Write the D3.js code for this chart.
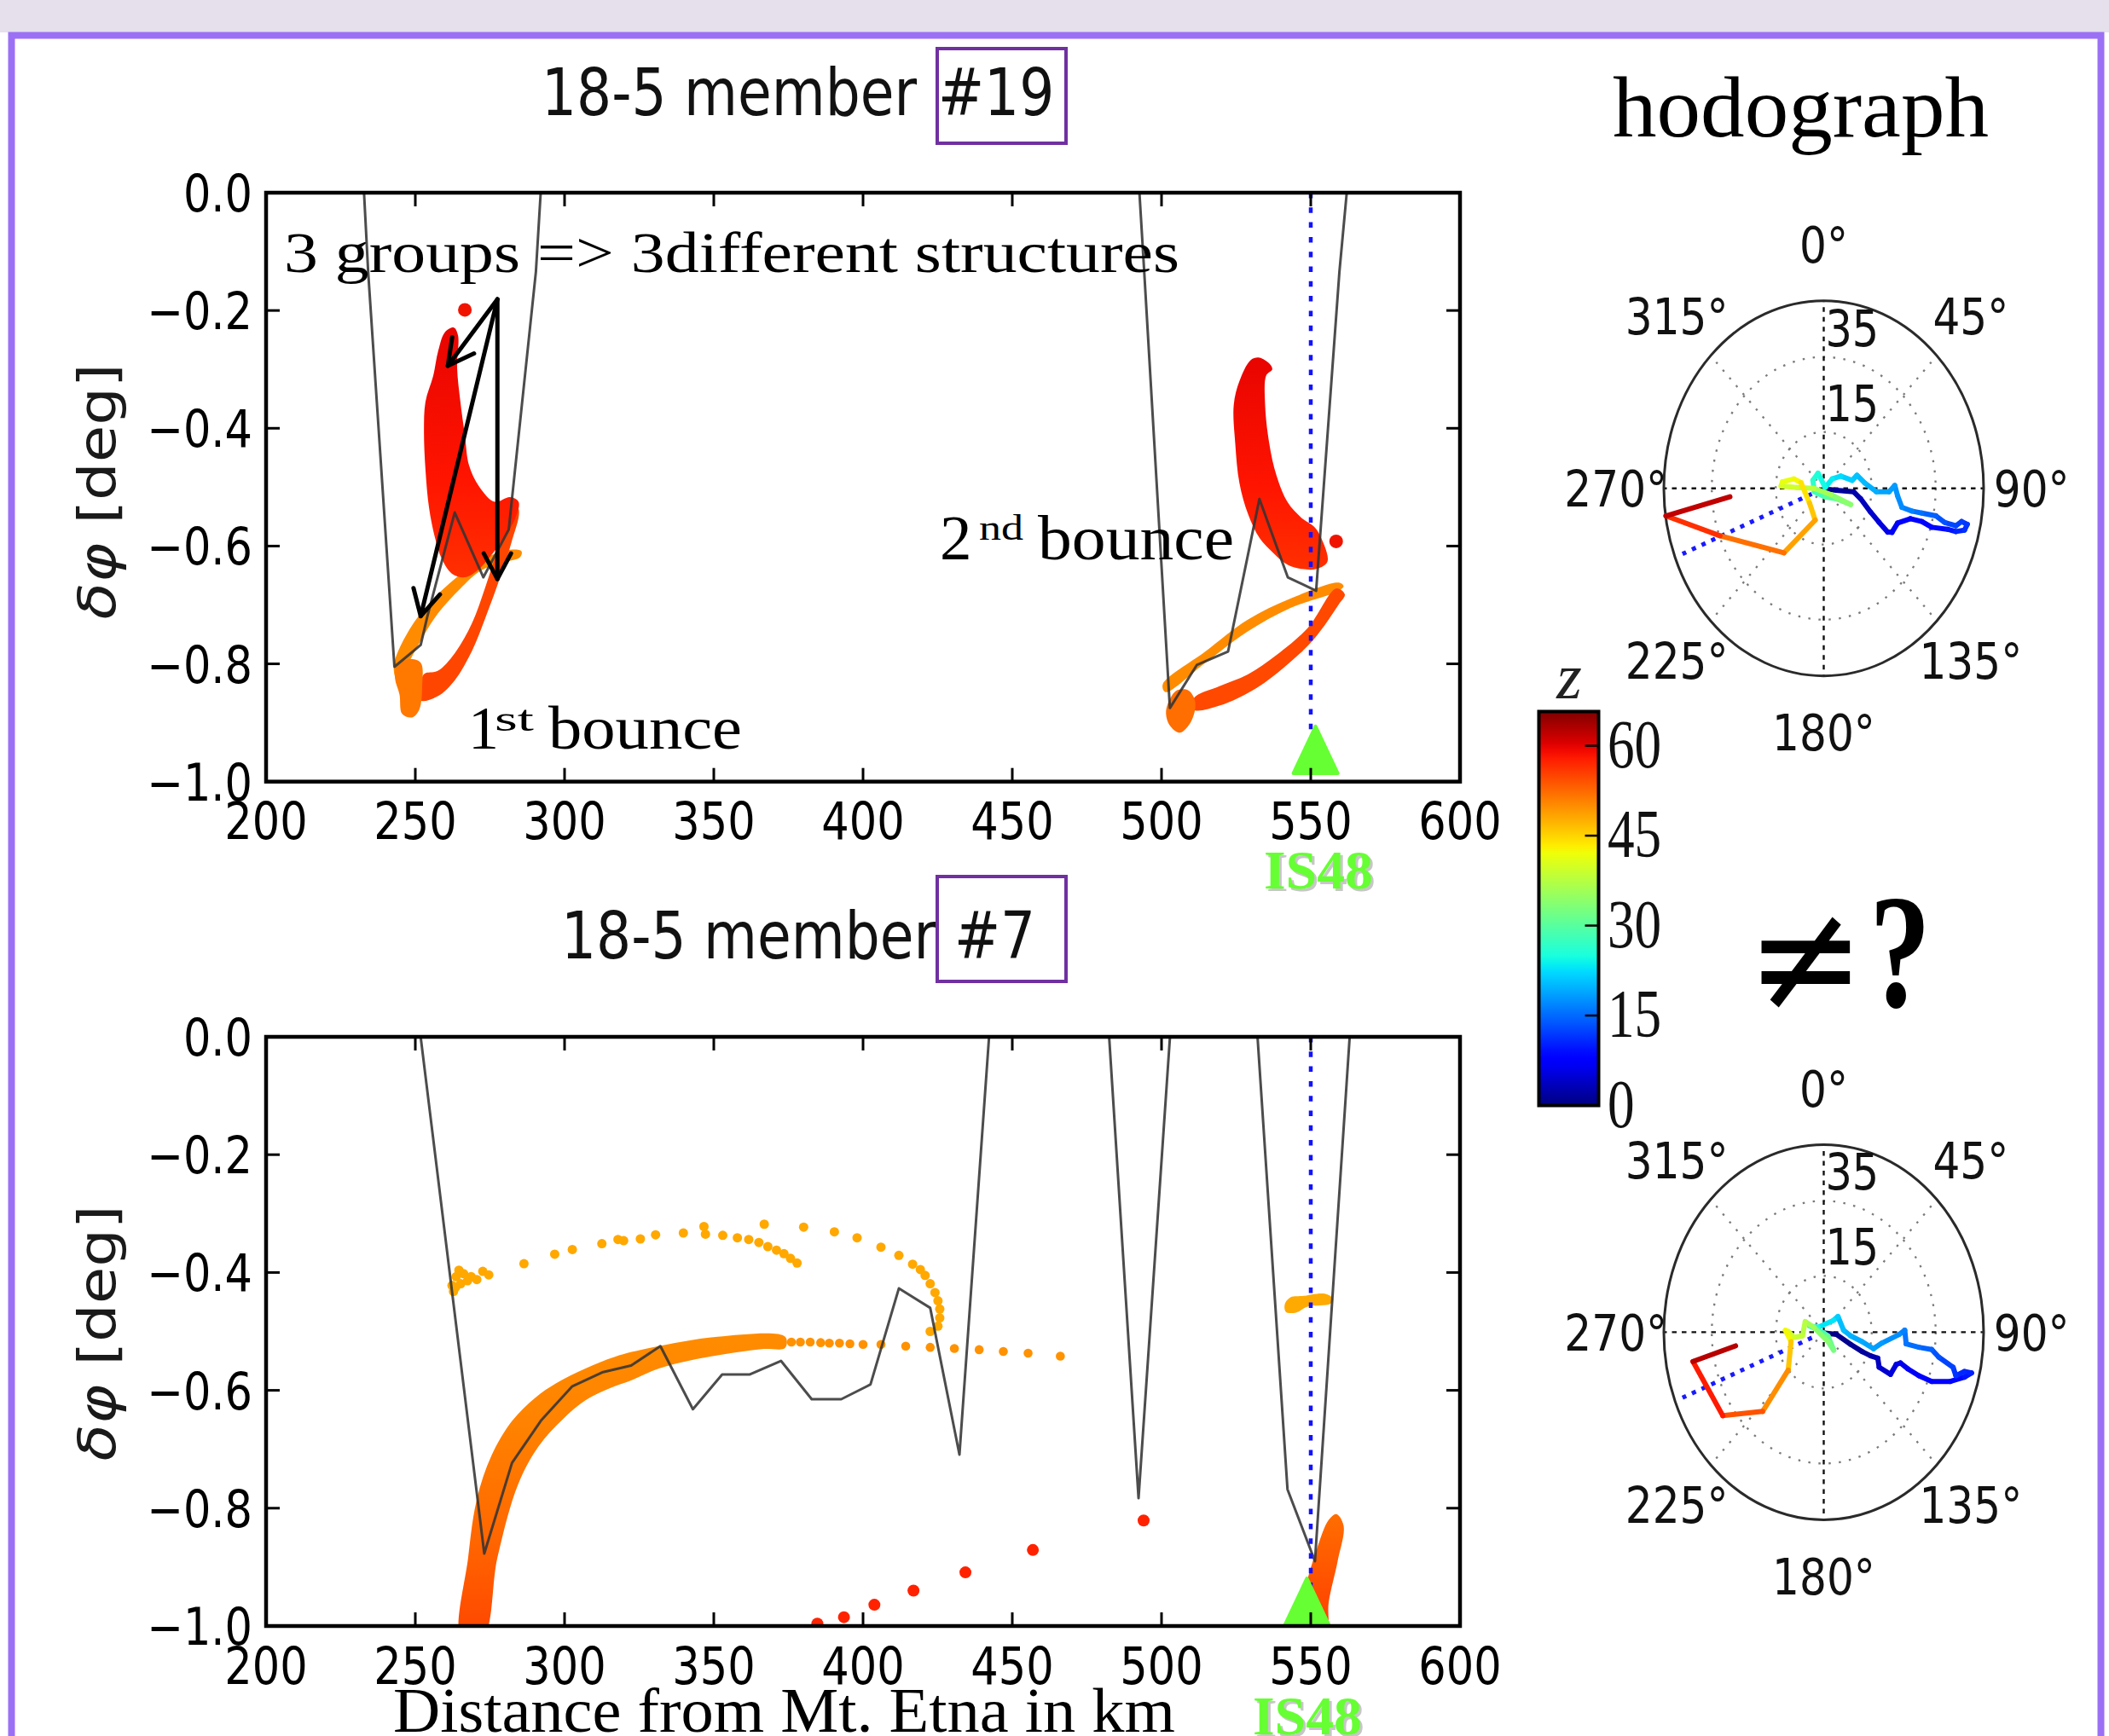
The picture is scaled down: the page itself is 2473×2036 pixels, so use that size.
<!DOCTYPE html>
<html><head><meta charset="utf-8">
<script src="https://cdn.jsdelivr.net/npm/d3@7"></script>
<style>html,body{margin:0;padding:0;background:#fff;}svg{display:block;}</style>
</head><body>
<svg id="chart" width="2473" height="2036"></svg>
<script>
// ======================= DATA =======================
const xTicks = [200,250,300,350,400,450,500,550,600];
const yTicks = [0,-0.2,-0.4,-0.6,-0.8,-1.0];
const yTickLabels = ["0.0","\u22120.2","\u22120.4","\u22120.6","\u22120.8","\u22121.0"];
const stationDist = 550;            // IS48 distance (km)
const markerTop = [551.6,-0.946];
const markerBot = [548.7,-0.959];

// member #19 : reference (gray) curve segments [km, deg]
const grayTop = [
 [[232.3,0.05],[234.2,-0.134],[243,-0.805],[251.8,-0.768],[254,-0.72],[263.2,-0.543],[272.8,-0.653],[281.3,-0.572],[290.4,-0.134],[292.6,0.05]],
 [[492.0,0.05],[494.2,-0.134],[502.8,-0.875],[511.8,-0.802],[522.3,-0.779],[532.8,-0.520],[542.3,-0.653],[551.8,-0.676],[559.6,-0.134],[562.6,0.03]]
];
// member #19 : arrival clouds (outlines)
const t19RedA = [[259.9,-0.237],[262.9,-0.229],[264.3,-0.242],[264.0,-0.297],[265.1,-0.355],[266.6,-0.412],[268.0,-0.463],[271.4,-0.499],[276.6,-0.525],[281.7,-0.517],[284.6,-0.525],[283.4,-0.554],[280.0,-0.583],[276.0,-0.612],[270.9,-0.641],[266.6,-0.653],[262.3,-0.647],[258.9,-0.622],[256.6,-0.586],[254.6,-0.535],[253.4,-0.470],[252.9,-0.405],[253.4,-0.355],[256.0,-0.311],[257.7,-0.268]];
const t19OrangeA = [[242.8,-0.802],[248.0,-0.742],[255.6,-0.692],[263.2,-0.656],[270.9,-0.626],[277.5,-0.612],[283.2,-0.606],[285.6,-0.609],[285.1,-0.619],[278.5,-0.629],[271.8,-0.642],[265.1,-0.672],[257.5,-0.715],[251.3,-0.765],[246.1,-0.812],[243.7,-0.825]];
const t19OrRedA = [[251.8,-0.862],[257.5,-0.855],[263.2,-0.828],[268.9,-0.779],[273.7,-0.719],[278.5,-0.652],[282.3,-0.592],[284.7,-0.539],[282.3,-0.519],[280.4,-0.559],[277.5,-0.606],[273.7,-0.666],[268.9,-0.732],[263.2,-0.782],[257.5,-0.812],[252.8,-0.818]];
const t19BlobA = [[243.7,-0.805],[248.0,-0.792],[251.8,-0.798],[252.3,-0.838],[251.3,-0.878],[248.9,-0.891],[245.6,-0.885],[244.7,-0.852],[243.2,-0.825]];
const t19RedB = [[529.9,-0.284],[532.8,-0.280],[536.1,-0.290],[537.1,-0.300],[535.1,-0.310],[534.7,-0.360],[536.1,-0.426],[538.5,-0.480],[542.3,-0.526],[547.1,-0.553],[550.9,-0.566],[552.8,-0.579],[555.6,-0.626],[551.8,-0.639],[547.1,-0.639],[542.3,-0.632],[537.5,-0.612],[532.8,-0.586],[529.0,-0.546],[526.1,-0.493],[524.7,-0.426],[524.2,-0.360],[526.1,-0.320]];
const t19OrangeB = [[500.4,-0.835],[514.7,-0.779],[528.9,-0.725],[543.2,-0.689],[559.4,-0.662],[561.0,-0.668],[559.4,-0.676],[543.2,-0.705],[528.9,-0.745],[514.7,-0.798],[501.3,-0.848]];
const t19OrRedB = [[510.9,-0.858],[519.4,-0.838],[528.9,-0.818],[538.5,-0.785],[549.0,-0.739],[558.5,-0.672],[561.4,-0.682],[559.4,-0.699],[550.9,-0.759],[541.3,-0.805],[531.8,-0.841],[519.4,-0.871],[510.9,-0.878]];
const t19BlobB = [[502.3,-0.865],[505.1,-0.845],[509.0,-0.845],[511.3,-0.865],[509.9,-0.898],[506.1,-0.917],[502.8,-0.905],[501.5,-0.885]];
const t19RedDots = [[266.6,-0.199],[558.5,-0.592]];

// member #7
const grayBot = [
 [[251.3,0.02],[273.1,-0.877],[282.4,-0.723],[292.3,-0.650],[302.6,-0.593],[312.9,-0.569],[322.3,-0.558],[332.1,-0.525],[343,-0.632],[352.8,-0.573],[362.1,-0.573],[372.5,-0.550],[382.8,-0.615],[392.7,-0.615],[402.5,-0.590],[412,-0.427],[422.5,-0.460],[432.3,-0.709],[442.5,0.02]],
 [[482.2,0.02],[492.3,-0.783],[503.1,0.02]],
 [[531.9,0.02],[542.2,-0.768],[551.4,-0.890],[563.3,0.02]]
];
const m7Band = [[265.4,-1.02],[267.7,-0.884],[270.6,-0.785],[275.5,-0.711],[282.4,-0.652],[290.3,-0.612],[297.2,-0.588],[307.0,-0.563],[316.9,-0.543],[328.7,-0.528],[351.3,-0.509],[373.9,-0.509],[373.9,-0.528],[366.1,-0.530],[346.4,-0.545],[331.6,-0.563],[322.8,-0.582],[314.9,-0.597],[307.0,-0.617],[299.2,-0.650],[291.3,-0.695],[284.4,-0.760],[277.5,-0.884],[272.6,-1.02]];
const m7BandR = [[545.5,-1.02],[548.5,-0.930],[552.0,-0.870],[556.0,-0.820],[558.6,-0.810],[561.0,-0.830],[559.0,-0.890],[556.0,-0.960],[555.0,-1.02]];
const m7Cluster = [[541.3,-0.454],[543.2,-0.442],[547.1,-0.440],[554.7,-0.436],[557.5,-0.445],[556.6,-0.453],[548.9,-0.458],[545.1,-0.468],[541.7,-0.467]];
const m7UpperDots = [[262.3,-0.422],[263.7,-0.407],[266.2,-0.402],[268.7,-0.407],[270.6,-0.412],[272.6,-0.398],[274.6,-0.404],[262.8,-0.432],[265.2,-0.419],[263.5,-0.425],[267.5,-0.414],[264.6,-0.396],
 [286.4,-0.385],[296.7,-0.369],[302.6,-0.361],[312.5,-0.351],[317.9,-0.344],[319.8,-0.346],[325.4,-0.343],[330.5,-0.336],[339.8,-0.333],[346.7,-0.322],[347.2,-0.335],[353.0,-0.337],[357.9,-0.341],[361.7,-0.344],[365.1,-0.349],[368.1,-0.356],[371.0,-0.362],[373.5,-0.368],[375.7,-0.376],[377.9,-0.384],
 [366.9,-0.318],[380.1,-0.323],[390.4,-0.331],[398.0,-0.341],[406.0,-0.357],[412.0,-0.371],[416.6,-0.386],[419.2,-0.395],[420.8,-0.405],[422.5,-0.419],[424.1,-0.434],[425.1,-0.448],[425.7,-0.462],[425.7,-0.477],[425.1,-0.491],[422.5,-0.500]];
const m7FlatDots = [[376.0,-0.518],[379.0,-0.518],[382.3,-0.518],[385.8,-0.519],[388.7,-0.520],[392.1,-0.520],[395.6,-0.521],[400.0,-0.522],[406.0,-0.522],[414.3,-0.525],[422.5,-0.527],[430.6,-0.529],[438.9,-0.531],[447.0,-0.534],[455.3,-0.537],[466.1,-0.542]];
const m7RedDots = [[384.7,-0.996],[393.6,-0.985],[403.8,-0.964],[416.9,-0.940],[434.3,-0.909],[456.9,-0.871],[494.0,-0.821]];

// annotation arrows (member #19)
const arrowOrigin = [277.5,-0.181];
const arrowTargets = [[260.9,-0.294],[251.8,-0.719],[277.5,-0.656]];

// hodographs: [z (km), east comp, north comp] (m/s)
const hodoTop = [[0,0.27,-0.15],[1,4.0,-0.53],[2,9.33,-0.91],[3,11.56,-2.80],[4,14.67,-6.36],[5,17.33,-9.09],[6,20.0,-11.67],[6.5,21.33,-11.74],[7,23.11,-9.24],[7.5,27.11,-8.11],[8,30.67,-8.86],[8.5,33.78,-10.38],[9,38.67,-10.91],[10,41.33,-11.52],[11,44.0,-11.14],[11.5,44.89,-9.62],[12,43.11,-8.86],[12.5,41.33,-10.0],[13,37.78,-9.09],[14,35.11,-7.35],[15,30.67,-6.59],[16,27.56,-6.06],[17,24.44,-5.08],[17.5,23.11,-2.05],[18,22.22,0.76],[18.5,20.44,-0.91],[19,16.44,-0.91],[20,12.89,1.36],[20.5,10.40,3.48],[21,8.89,2.12],[22,5.33,3.26],[23,2.67,2.50],[24,0.44,0.23],[25,-1.78,4.02],[26,-3.38,2.12],[27,-2.93,-0.91],[29,0.44,-2.27],[31,4.0,-2.80],[33,8.44,-4.32],[35,2.22,-1.67],[37,-3.11,0],[39,-8.44,0.23],[40,-13.33,0.61],[41,-12.89,1.74],[42,-9.33,2.50],[43,-7.11,1.52],[45,-4.44,-3.94],[47,-2.67,-8.48],[50,-12.44,-17.20],[54,-32.44,-12.65],[59,-49.33,-7.35],[65,-29.33,-2.27]];
const hodoBot = [[0,0.44,-0.23],[0.5,4.0,-0.61],[1,8.44,-3.27],[1.5,12.0,-5.17],[2,14.67,-6.30],[3,16.89,-6.91],[4,17.33,-9.34],[5,20.89,-11.24],[5.5,22.67,-8.58],[6,24.0,-8.20],[6.5,26.22,-9.72],[7,29.78,-11.62],[7.5,33.78,-13.14],[8,39.56,-13.14],[9,44.0,-12.0],[10,46.22,-10.86],[10.5,44.0,-10.48],[11,41.33,-11.62],[12,40.44,-9.34],[13,36.0,-6.68],[14,33.78,-4.63],[15,29.78,-4.03],[15.5,25.78,-3.11],[16,25.33,0.53],[17,23.56,-0.61],[18,18.22,-2.89],[18.5,15.56,-4.41],[19,12.0,-2.51],[19.5,8.44,-0.99],[20,6.22,0.53],[21,4.44,4.18],[22,3.11,3.19],[24,-1.78,1.29],[26,-4.44,1.67],[28,0,-0.23],[30,1.33,-0.99],[32,3.11,-4.79],[33,1.33,-2.51],[35,-3.11,1.29],[37,-5.78,2.81],[38,-6.67,-0.99],[39,-9.33,-1.37],[40,-11.11,0.15],[41,-12.0,0.53],[44,-10.22,-2.51],[48,-11.11,-10.10],[52,-19.11,-21.12],[56,-31.56,-22.26],[60,-40.89,-7.82],[65,-27.56,-3.65]];
const stationAzimuth = 248.4;
const stationRay = [4, 47.5];
const rTicks = [15,35];
const rMax = 50;
const thetaTicks = [0,45,90,135,180,225,270,315];
const cbTicks = [0,15,30,45,60];
const zMax = 65.7;

// ======================= DRAWING =======================
const W = 2473, H = 2036;
const svg = d3.select('#chart');
const defs = svg.append('defs');

function label(parent, x, y, str, o = {}) {
  const t = parent.append('text')
    .attr('transform', `translate(${x},${y})` + (o.rotate ? ` rotate(${o.rotate})` : '') + ` scale(${o.sx || 1},${o.sy || 1})`)
    .attr('font-family', o.family || 'DejaVu Sans')
    .attr('font-size', o.size || 60)
    .attr('font-weight', o.weight || 'normal')
    .attr('font-style', o.style || 'normal')
    .attr('text-anchor', o.anchor || 'start')
    .attr('fill', o.fill || '#000')
    .text(str);
  if (o.len) t.attr('textLength', o.len).attr('lengthAdjust', 'spacingAndGlyphs');
  return t;
}
function vGrad(id, stops) {
  const g = defs.append('linearGradient').attr('id', id).attr('x1', 0).attr('y1', 0).attr('x2', 0).attr('y2', 1);
  stops.forEach(s => g.append('stop').attr('offset', s[0]).attr('stop-color', s[1]));
}
vGrad('gRed', [[0, '#e80400'], [0.6, '#ff1400'], [1, '#ff3000']]);
vGrad('gBand', [[0, '#ff8c00'], [0.3, '#ff8200'], [0.65, '#ff6800'], [1, '#ff4400']]);
vGrad('gBandR', [[0, '#ff6e00'], [1, '#ff3800']]);

// jet colormap
const jR = d3.scaleLinear().domain([0, 0.35, 0.66, 0.89, 1]).range([0, 0, 1, 1, 0.5]).clamp(true);
const jG = d3.scaleLinear().domain([0, 0.125, 0.375, 0.64, 0.91, 1]).range([0, 0, 1, 1, 0, 0]).clamp(true);
const jB = d3.scaleLinear().domain([0, 0.11, 0.34, 0.65, 1]).range([0.5, 1, 1, 0, 0]).clamp(true);
const jet = t => d3.rgb(255 * jR(t), 255 * jG(t), 255 * jB(t)).formatHex();

// page background
svg.append('rect').attr('width', W).attr('height', H).attr('fill', '#ffffff');
svg.append('rect').attr('width', W).attr('height', 38).attr('fill', '#e5e0ec');
svg.append('rect').attr('x', 13.5).attr('y', 41.5).attr('width', 2450).attr('height', 2100)
  .attr('fill', '#ffffff').attr('stroke', '#9b70f5').attr('stroke-width', 8);

const X0 = 312, X1 = 1712;
const x = d3.scaleLinear().domain([200, 600]).range([X0, X1]);

function panel(cfg) {
  const y = d3.scaleLinear().domain([0, -1]).range([cfg.y0, cfg.y1]);
  const g = svg.append('g');
  const cid = 'clip' + cfg.id;
  defs.append('clipPath').attr('id', cid).append('rect')
    .attr('x', X0).attr('y', cfg.y0).attr('width', X1 - X0).attr('height', cfg.y1 - cfg.y0);
  const inner = g.append('g').attr('clip-path', `url(#${cid})`);
  const outline = d3.line().x(d => x(d[0])).y(d => y(d[1])).curve(d3.curveCatmullRomClosed.alpha(0.5));
  cfg.bands.forEach(b => inner.append('path').attr('d', outline(b.pts)).attr('fill', b.fill));
  cfg.dots.forEach(s => inner.append('g').selectAll('circle').data(s.pts).join('circle')
    .attr('cx', d => x(d[0])).attr('cy', d => y(d[1])).attr('r', s.r).attr('fill', s.fill));
  const ln = d3.line().x(d => x(d[0])).y(d => y(d[1]));
  cfg.gray.forEach(seg => inner.append('path').attr('d', ln(seg)).attr('fill', 'none')
    .attr('stroke', '#333').attr('stroke-opacity', 0.88).attr('stroke-width', 3).attr('stroke-linejoin', 'round'));
  inner.append('line').attr('x1', x(stationDist)).attr('x2', x(stationDist)).attr('y1', y(0)).attr('y2', y(-1))
    .attr('stroke', '#1212ff').attr('stroke-width', 4.5).attr('stroke-dasharray', '6.5 10.8');
  const mx = x(cfg.marker[0]), my = y(cfg.marker[1]);
  inner.append('path').attr('d', `M${mx},${my - 27.5}L${mx + 26},${my + 27.5}L${mx - 26},${my + 27.5}Z`)
    .attr('fill', '#66ff33').attr('stroke', '#66ff33').attr('stroke-width', 4).attr('stroke-linejoin', 'round');
  if (cfg.annot) cfg.annot(g, y);
  // frame + ticks
  g.append('rect').attr('x', X0).attr('y', cfg.y0).attr('width', X1 - X0).attr('height', cfg.y1 - cfg.y0)
    .attr('fill', 'none').attr('stroke', '#000').attr('stroke-width', 4.5);
  xTicks.forEach(t => {
    g.append('line').attr('x1', x(t)).attr('x2', x(t)).attr('y1', cfg.y1).attr('y2', cfg.y1 - 16).attr('stroke', '#000').attr('stroke-width', 3);
    g.append('line').attr('x1', x(t)).attr('x2', x(t)).attr('y1', cfg.y0).attr('y2', cfg.y0 + 16).attr('stroke', '#000').attr('stroke-width', 3);
    label(g, x(t), cfg.y1 + 67.5, String(t), { size: 60, sx: 0.85, anchor: 'middle' });
  });
  yTicks.forEach((t, i) => {
    g.append('line').attr('x1', X0).attr('x2', X0 + 16).attr('y1', y(t)).attr('y2', y(t)).attr('stroke', '#000').attr('stroke-width', 3);
    g.append('line').attr('x1', X1).attr('x2', X1 - 16).attr('y1', y(t)).attr('y2', y(t)).attr('stroke', '#000').attr('stroke-width', 3);
    label(g, 296, y(t) + 22, yTickLabels[i], { size: 60, sx: 0.85, anchor: 'end' });
  });
  // y-axis label
  const yl = g.append('text')
    .attr('transform', `translate(135,${cfg.ylabY}) rotate(-90) scale(1,0.85)`)
    .attr('font-family', 'DejaVu Sans').attr('font-size', 72).attr('text-anchor', 'middle')
    .attr('fill', '#1a1a1a').attr('textLength', 300).attr('lengthAdjust', 'spacingAndGlyphs');
  yl.append('tspan').attr('font-style', 'italic').text('\u03b4\u03c6');
  yl.append('tspan').text(' [deg]');
  // title
  label(svg, cfg.titleX, cfg.titleY, '18-5 member', { size: 76, sx: 0.85, fill: '#111' });
  label(svg, cfg.hashX, cfg.titleY, cfg.hash, { size: 76, sx: 0.85, fill: '#111' });
  svg.append('rect').attr('x', 1099).attr('y', cfg.boxY0).attr('width', 151).attr('height', cfg.boxY1 - cfg.boxY0)
    .attr('fill', 'none').attr('stroke', '#7030a0').attr('stroke-width', 4);
  // IS48 label
  label(svg, cfg.isX + 3, cfg.isY + 3, 'IS48', { family: 'Liberation Serif', size: 64, weight: 'bold', fill: '#9a9a9a', len: 128 }).attr('opacity', 0.55);
  label(svg, cfg.isX, cfg.isY, 'IS48', { family: 'Liberation Serif', size: 64, weight: 'bold', fill: '#66ff33', len: 128 });
}

panel({
  id: 'T', y0: 226, y1: 916.7, marker: markerTop, gray: grayTop, ylabY: 576.5,
  titleX: 635, titleY: 135, hashX: 1100, hash: '#19', boxY0: 57, boxY1: 168, isX: 1482, isY: 1041.5,
  bands: [
    { pts: t19OrangeA, fill: '#ff8c00' },
    { pts: t19OrRedA, fill: '#ff4600' },
    { pts: t19BlobA, fill: '#ff7800' },
    { pts: t19RedA, fill: 'url(#gRed)' },
    { pts: t19OrangeB, fill: '#ff8c00' },
    { pts: t19OrRedB, fill: '#ff4800' },
    { pts: t19BlobB, fill: '#ff6e00' },
    { pts: t19RedB, fill: 'url(#gRed)' }
  ],
  dots: [{ pts: t19RedDots, r: 8, fill: '#f01400' }],
  annot: (g, y) => {
    label(g, 333, 319, '3 groups => 3different structures', { family: 'Liberation Serif', size: 68, len: 1050 });
    label(g, 549, 877.5, '1', { family: 'Liberation Serif', size: 72 });
    label(g, 580, 857, 'st', { family: 'Liberation Serif', size: 42, len: 46 });
    label(g, 643, 877.5, 'bounce', { family: 'Liberation Serif', size: 72, len: 227 });
    label(g, 1102, 656, '2', { family: 'Liberation Serif', size: 75 });
    label(g, 1148, 633, 'nd', { family: 'Liberation Serif', size: 42, len: 52 });
    label(g, 1217, 656, 'bounce', { family: 'Liberation Serif', size: 75, len: 230 });
    const x0 = x(arrowOrigin[0]), y0 = y(arrowOrigin[1]);
    arrowTargets.forEach(t => {
      const x1 = x(t[0]), y1 = y(t[1]);
      const ang = Math.atan2(y1 - y0, x1 - x0), L = 34, a = 28 * Math.PI / 180;
      g.append('line').attr('x1', x0).attr('y1', y0).attr('x2', x1).attr('y2', y1)
        .attr('stroke', '#000').attr('stroke-width', 5).attr('stroke-linecap', 'round');
      const p1 = [x1 - L * Math.cos(ang - a), y1 - L * Math.sin(ang - a)];
      const p2 = [x1 - L * Math.cos(ang + a), y1 - L * Math.sin(ang + a)];
      g.append('path').attr('d', `M${p1}L${x1},${y1}L${p2}`).attr('fill', 'none')
        .attr('stroke', '#000').attr('stroke-width', 5).attr('stroke-linecap', 'round').attr('stroke-linejoin', 'round');
    });
  }
});

panel({
  id: 'B', y0: 1216, y1: 1907, marker: markerBot, gray: grayBot, ylabY: 1563.5,
  titleX: 658, titleY: 1124, hashX: 1119, hash: '#7', boxY0: 1028, boxY1: 1151, isX: 1469, isY: 2034,
  bands: [
    { pts: m7Band, fill: 'url(#gBand)' },
    { pts: m7BandR, fill: 'url(#gBandR)' },
    { pts: m7Cluster, fill: '#ffaa00' }
  ],
  dots: [
    { pts: m7UpperDots, r: 5.5, fill: '#ffa800' },
    { pts: m7FlatDots, r: 5.3, fill: '#ff9200' },
    { pts: m7RedDots, r: 7, fill: '#ff2200' }
  ]
});

// x-axis label of lower panel
label(svg, 461, 2031, 'Distance from Mt. Etna in km', { family: 'Liberation Serif', size: 74, len: 917 });

// ---------------- hodographs ----------------
const rxS = d3.scaleLinear().domain([0, rMax]).range([0, 187.5]);
const ryS = d3.scaleLinear().domain([0, rMax]).range([0, 220]);
function hodo(cy, trace) {
  const cx = 2138.5;
  const g = svg.append('g');
  const px = u => cx + rxS(u), py = v => cy - ryS(v);
  rTicks.forEach(r => g.append('ellipse').attr('cx', cx).attr('cy', cy).attr('rx', rxS(r)).attr('ry', ryS(r))
    .attr('fill', 'none').attr('stroke', '#7a7a7a').attr('stroke-width', 2.3).attr('stroke-dasharray', '2.5 9.5'));
  thetaTicks.forEach(th => {
    const a = th * Math.PI / 180, al = th % 90 === 0;
    g.append('line').attr('x1', cx).attr('y1', cy).attr('x2', px(rMax * Math.sin(a))).attr('y2', py(rMax * Math.cos(a)))
      .attr('stroke', al ? '#111' : '#7a7a7a').attr('stroke-width', al ? 2.4 : 2.3).attr('stroke-dasharray', al ? '5.5 6' : '2.5 9.5');
  });
  g.append('ellipse').attr('cx', cx).attr('cy', cy).attr('rx', rxS(rMax)).attr('ry', ryS(rMax))
    .attr('fill', 'none').attr('stroke', '#2a2a2a').attr('stroke-width', 3);
  // station direction
  const sa = stationAzimuth * Math.PI / 180;
  g.append('line').attr('x1', px(stationRay[0] * Math.sin(sa))).attr('y1', py(stationRay[0] * Math.cos(sa)))
    .attr('x2', px(stationRay[1] * Math.sin(sa))).attr('y2', py(stationRay[1] * Math.cos(sa)))
    .attr('stroke', '#1a1aff').attr('stroke-width', 5).attr('stroke-dasharray', '5 7.5');
  // hodograph trace coloured by altitude
  const segs = d3.pairs(trace);
  g.append('g').selectAll('line').data(segs).join('line')
    .attr('x1', d => px(d[0][1])).attr('y1', d => py(d[0][2]))
    .attr('x2', d => px(d[1][1])).attr('y2', d => py(d[1][2]))
    .attr('stroke', d => jet(((d[0][0] + d[1][0]) / 2) / zMax))
    .attr('stroke-width', 6).attr('stroke-linecap', 'round');
  // angle labels
  thetaTicks.forEach(th => {
    const a = th * Math.PI / 180;
    label(g, cx + 1.3 * rxS(rMax) * Math.sin(a), cy - 1.3 * ryS(rMax) * Math.cos(a) + 21.5, th + '\u00b0',
      { size: 59, sx: 0.85, anchor: 'middle', fill: '#111' });
  });
  rTicks.forEach(r => label(g, cx + 2, cy - ryS(r) - 13, String(r), { size: 58, sx: 0.85, fill: '#111' }));
}
hodo(572.7, hodoTop);
hodo(1562.4, hodoBot);

label(svg, 1891, 159.5, 'hodograph', { family: 'Liberation Serif', size: 102, len: 441 });

// ---------------- colourbar ----------------
const cbX = 1804.5, cbW = 70;
const zS = d3.scaleLinear().domain([0, zMax]).range([1296.5, 834.5]);
const cg = defs.append('linearGradient').attr('id', 'gJet').attr('x1', 0).attr('y1', 1).attr('x2', 0).attr('y2', 0);
d3.range(0, 1.0001, 0.02).forEach(t => cg.append('stop').attr('offset', t).attr('stop-color', jet(t)));
svg.append('rect').attr('x', cbX).attr('y', zS(zMax)).attr('width', cbW).attr('height', zS(0) - zS(zMax))
  .attr('fill', 'url(#gJet)').attr('stroke', '#000').attr('stroke-width', 4);
cbTicks.forEach(t => {
  svg.append('line').attr('x1', cbX + cbW - 16).attr('x2', cbX + cbW).attr('y1', zS(t)).attr('y2', zS(t))
    .attr('stroke', '#000').attr('stroke-width', 2.5);
  label(svg, 1885, zS(t) + 25, String(t), { family: 'Liberation Serif', size: 80, sx: 0.79, fill: '#111' });
});
label(svg, 1840, 819, 'z', { family: 'Liberation Serif', size: 76, style: 'italic', anchor: 'middle', fill: '#222' });

// "≠?"
label(svg, 2048, 1185, '\u2260', { family: 'DejaVu Sans', size: 180, sx: 0.92 });
label(svg, 2192, 1180, '?', { family: 'Liberation Serif', size: 190, weight: 'bold', len: 72 });
</script>
</body></html>
